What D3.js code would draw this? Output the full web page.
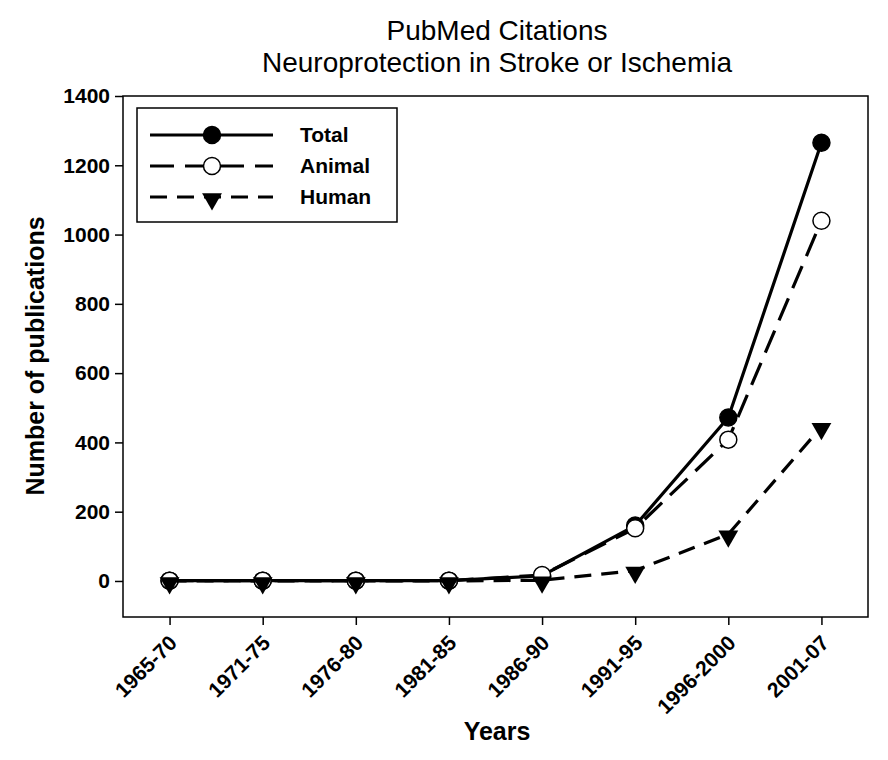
<!DOCTYPE html>
<html>
<head>
<meta charset="utf-8">
<script src="https://cdn.jsdelivr.net/npm/d3@7"></script>
<style>
  body { margin: 0; background: #fff; }
  text { font-family: "Liberation Sans", Arial, sans-serif; }
</style>
</head>
<body>
<div id="chart"></div>
<script>
// data
const periods = ["1965-70", "1971-75", "1976-80", "1981-85", "1986-90", "1991-95", "1996-2000", "2001-07"];
const total = [1, 1, 1, 1, 15, 160, 472, 1265];
const animal = [1, 1, 1, 1, 17, 152, 408, 1040];
const human = [0, 0, 0, 0, 2, 30, 135, 445];
const yTicks = [0, 200, 400, 600, 800, 1000, 1200, 1400];

const width = 888, height = 760;
const margin = { top: 96, right: 20, bottom: 143, left: 123 };
const plotW = 868 - margin.left, plotH = 617 - margin.top;

const svg = d3.select("#chart").append("svg")
  .attr("width", width)
  .attr("height", height);

const g = svg.append("g")
  .attr("transform", `translate(${margin.left},${margin.top})`);

const x = d3.scalePoint().domain(periods).range([0, plotW]).padding(0.5);
const y = d3.scaleLinear().domain([-104, 1400]).range([plotH, 0]);

// frame
g.append("rect")
  .attr("width", plotW).attr("height", plotH)
  .attr("fill", "none").attr("stroke", "#000").attr("stroke-width", 1.5);

// y axis
const yAxis = g.append("g")
  .call(d3.axisLeft(y).tickValues(yTicks).tickFormat(d3.format("d"))
    .tickSize(8).tickSizeOuter(0).tickPadding(5));
yAxis.select(".domain").remove();
yAxis.selectAll("line").attr("stroke-width", 1.5);
yAxis.selectAll("text")
  .attr("font-size", 21).attr("font-weight", "bold").attr("fill", "#000")
  .attr("font-family", "Liberation Sans, Arial, sans-serif");

// x axis
const xAxis = g.append("g")
  .attr("transform", `translate(0,${plotH})`)
  .call(d3.axisBottom(x).tickSize(8).tickSizeOuter(0));
xAxis.select(".domain").remove();
xAxis.selectAll("line").attr("stroke-width", 1.5);
xAxis.selectAll("text")
  .attr("font-size", 21).attr("font-weight", "bold").attr("fill", "#000")
  .attr("font-family", "Liberation Sans, Arial, sans-serif")
  .attr("text-anchor", "end")
  .attr("y", 0)
  .attr("dy", "0.35em")
  .attr("transform", "translate(3,22) rotate(-45)");

// series
const series = [
  { name: "Total", values: total, dash: null, marker: "filled" },
  { name: "Animal", values: animal, dash: "24,11", marker: "open" },
  { name: "Human", values: human, dash: "17,10", marker: "triangle" }
];

const line = d3.line()
  .x((d, i) => x(periods[i]))
  .y(d => y(d));

const tri = d3.symbol().type(d3.symbolTriangle).size(170);

function drawMarker(sel, kind) {
  if (kind === "triangle") {
    sel.append("path").attr("d", tri).attr("transform", "translate(0,2) rotate(180)").attr("fill", "#000");
  } else {
    sel.append("circle").attr("r", 8.5)
      .attr("fill", kind === "filled" ? "#000" : "#fff")
      .attr("stroke", "#000").attr("stroke-width", 1.5);
  }
}

// each series: line then its markers, in order so human ends on top
series.forEach(s => {
  g.append("path")
    .datum(s.values)
    .attr("d", line)
    .attr("fill", "none")
    .attr("stroke", "#000")
    .attr("stroke-width", 3.2)
    .attr("stroke-dasharray", s.dash);
  g.selectAll(null)
    .data(s.values)
    .join("g")
    .attr("transform", (d, i) => `translate(${x(periods[i])},${y(d)})`)
    .each(function () { drawMarker(d3.select(this), s.marker); });
});

// legend
const legend = g.append("g").attr("transform", "translate(14,12)");
legend.append("rect")
  .attr("width", 260).attr("height", 114)
  .attr("fill", "#fff").attr("stroke", "#000").attr("stroke-width", 1.5);
series.forEach((s, i) => {
  const row = legend.append("g").attr("transform", `translate(0,${27 + i * 31})`);
  row.append("line")
    .attr("x1", 13).attr("x2", 136)
    .attr("stroke", "#000").attr("stroke-width", 3.2)
    .attr("stroke-dasharray", s.dash);
  const m = row.append("g").attr("transform", "translate(75,0)");
  drawMarker(m, s.marker);
  row.append("text")
    .attr("x", 163).attr("dy", "0.35em")
    .attr("font-size", 21).attr("font-weight", "bold")
    .text(s.name);
});

// titles
svg.append("text")
  .attr("x", 497).attr("y", 40)
  .attr("text-anchor", "middle").attr("font-size", 28)
  .text("PubMed Citations");
svg.append("text")
  .attr("x", 497).attr("y", 72)
  .attr("text-anchor", "middle").attr("font-size", 28)
  .text("Neuroprotection in Stroke or Ischemia");

svg.append("text")
  .attr("x", 497).attr("y", 740)
  .attr("text-anchor", "middle").attr("font-size", 25).attr("font-weight", "bold")
  .text("Years");

svg.append("text")
  .attr("transform", "translate(44,356) rotate(-90)")
  .attr("text-anchor", "middle").attr("font-size", 25).attr("font-weight", "bold")
  .text("Number of publications");
</script>
</body>
</html>
